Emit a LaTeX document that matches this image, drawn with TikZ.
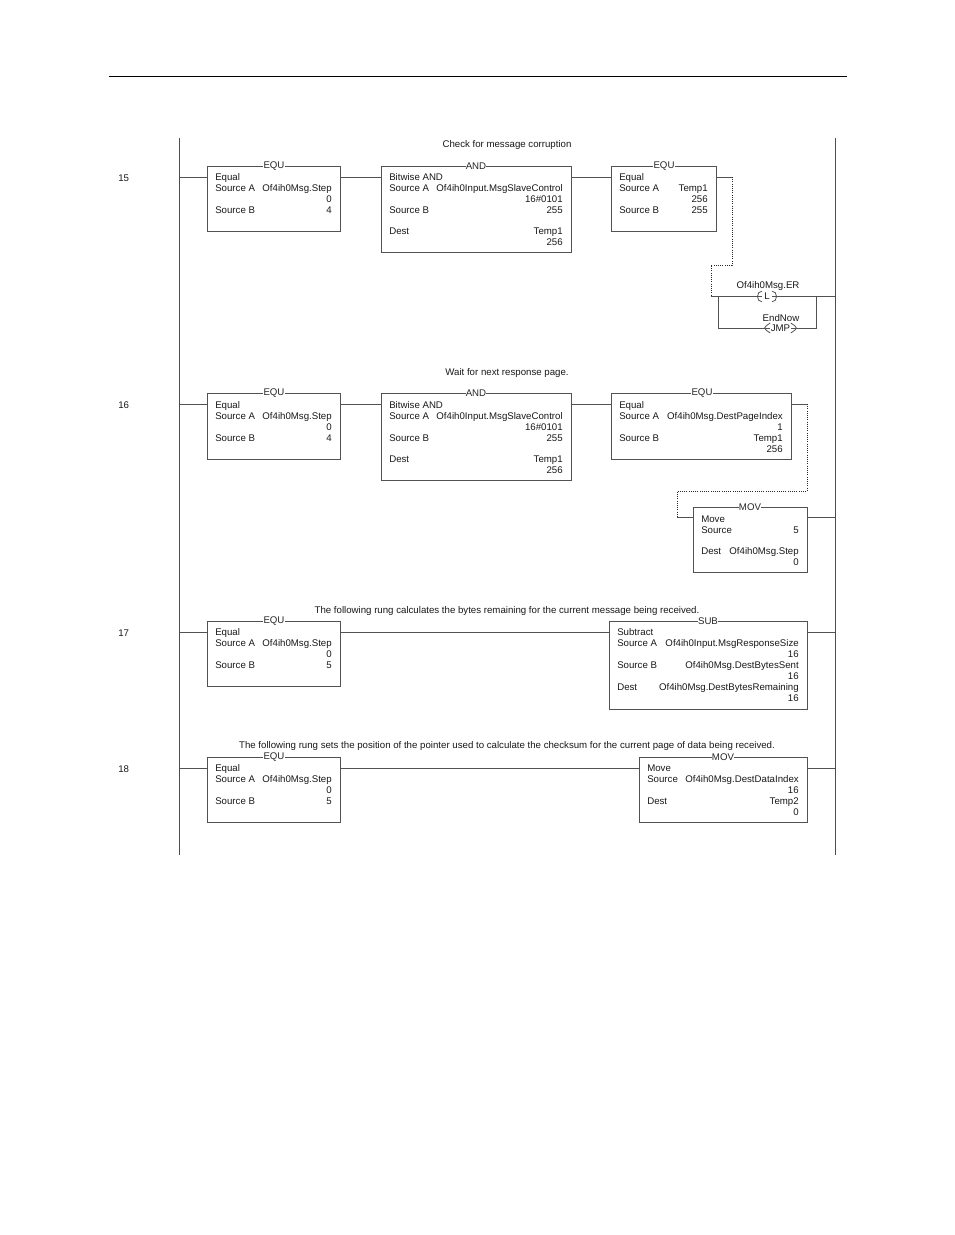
\documentclass[tikz,border=0pt]{standalone}
\usepackage{fontspec}
\setmainfont{Liberation Sans}
\newcommand{\fsz}{\fontsize{7.25pt}{8pt}\selectfont}
\tikzset{
  ln/.style={draw=black!68,line width=0.55pt},
  rail/.style={draw=black!70,line width=0.7pt},
  dots/.style={draw=black!85,line width=0.65pt,densely dotted},
  ibox/.style={ln,rectangle,anchor=north west,inner sep=0pt,outer sep=0pt},
  ttl/.style={fill=white,inner sep=0.2pt,font=\fsz,text=black!85},
  lt/.style={anchor=base west,inner sep=0pt,font=\fsz,text=black!90},
  rt/.style={anchor=base east,inner sep=0pt,font=\fsz,text=black!90},
  ct/.style={anchor=base,inner sep=0pt,font=\fsz,text=black!90},
  coil/.style={fill=white,rectangle,inner sep=0pt,outer sep=0pt,text=black!90,font=\fsz}
}
\newcommand{\ibx}[7]{% name,x1,y1,x2,y2,title,titlex
  \pgfmathsetlengthmacro{\ww}{(#4-#2)*0.75pt}
  \pgfmathsetlengthmacro{\hh}{(#5-#3)*0.75pt}
  \node[ibox,minimum width=\ww,minimum height=\hh] (#1) at (#2,#3) {};
  \node[ttl] (#1t) at (#7,#3) {#6};
}
\begin{document}
\begin{tikzpicture}[x=0.75pt,y=-0.75pt]
\useasboundingbox (0,0) rectangle (954,1235);
\fill[white] (0,0) rectangle (954,1235);
\coordinate (ruleL) at (109,76); \coordinate (ruleR) at (847,76);
\draw[draw=black,line width=0.7pt] (ruleL) -- (ruleR);
% rails
\coordinate (lt) at (179,138); \coordinate (lb) at (179,855);
\coordinate (rt) at (835,138); \coordinate (rb) at (835,855);
\draw[rail] (lt) -- (lb);
\draw[rail] (rt) -- (rb);
% rung numbers
\foreach \n/\y in {15/181,16/408,17/636,18/772} \node[lt] (num\n) at (118,\y) {\n};
% comments
\node[ct] (c15) at (507,147) {Check for message corruption};
\node[ct] (c16) at (507,375) {Wait for next response page.};
\node[ct] (c17) at (507,613) {The following rung calculates the bytes remaining for the current message being received.};
\node[ct] (c18) at (507,748) {The following rung sets the position of the pointer used to calculate the checksum for the current page of data being received.};
% ---- rung 15
\ibx{a1}{207}{166}{340}{231}{EQU}{274}
\node[lt] at (215,180) {Equal};
\node[lt] at (215,191) {Source A};
\node[rt] at (332,191) {Of4ih0Msg.Step};
\node[rt] at (332,202) {0};
\node[lt] at (215,213) {Source B};
\node[rt] at (332,213) {4};
\ibx{a2}{381}{166}{571}{252}{AND}{476}
\node[lt] at (389,180) {Bitwise AND};
\node[lt] at (389,191) {Source A};
\node[rt] at (563,191) {Of4ih0Input.MsgSlaveControl};
\node[rt] at (563,202) {16\#0101};
\node[lt] at (389,213) {Source B};
\node[rt] at (563,213) {255};
\node[lt] at (389,234) {Dest};
\node[rt] at (563,234) {Temp1};
\node[rt] at (563,245) {256};
\ibx{a3}{611}{166}{716}{231}{EQU}{664}
\node[lt] at (619,180) {Equal};
\node[lt] at (619,191) {Source A};
\node[rt] at (708,191) {Temp1};
\node[rt] at (708,202) {256};
\node[lt] at (619,213) {Source B};
\node[rt] at (708,213) {255};
\coordinate (a0L) at (179,177);
\draw[ln] (a0L) -- (a1.north west |- a0L);
\draw[ln] (a1.north east |- a0L) -- (a2.north west |- a0L);
\draw[ln] (a2.north east |- a0L) -- (a3.north west |- a0L);
\coordinate (d1) at (732,177); \coordinate (d2) at (732,265);
\coordinate (d3) at (711,265); \coordinate (d4) at (711,296);
\draw[ln] (a3.north east |- a0L) -- (d1);
\draw[dots] (d1) -- (d2) -- (d3) -- (d4);
\coordinate (rr15) at (835,296);
\coordinate (bl) at (718,296); \coordinate (br) at (816,296);
\coordinate (jl) at (718,328); \coordinate (jr) at (816,328);
\draw[ln] (d4) -- (rr15);
\draw[ln] (bl) -- (jl) -- (jr) -- (br);
\node[coil,minimum width=7.5pt,minimum height=8pt] (coilL) at (767,296.5) {L};
\draw[ln,line width=0.6pt] (coilL.north west) .. controls ([xshift=-4.5pt]coilL.north west) and ([xshift=-4.5pt]coilL.south west) .. (coilL.south west);
\draw[ln,line width=0.6pt] (coilL.north east) .. controls ([xshift=4.5pt]coilL.north east) and ([xshift=4.5pt]coilL.south east) .. (coilL.south east);
\node[coil,minimum width=15.5pt,minimum height=7.5pt] (coilJ) at (780.5,328) {JMP};
\draw[ln,line width=0.6pt] (coilJ.north west) .. controls ([xshift=-5.5pt]coilJ.west) .. (coilJ.south west);
\draw[ln,line width=0.6pt] (coilJ.north east) .. controls ([xshift=5.5pt]coilJ.east) .. (coilJ.south east);
\node[ct] (lblL) at (768,288) {Of4ih0Msg.ER};
\node[ct] (lblJ) at (781,321) {EndNow};
% ---- rung 16
\ibx{b1}{207}{393}{340}{459}{EQU}{274}
\node[lt] at (215,408) {Equal};
\node[lt] at (215,419) {Source A};
\node[rt] at (332,419) {Of4ih0Msg.Step};
\node[rt] at (332,430) {0};
\node[lt] at (215,441) {Source B};
\node[rt] at (332,441) {4};
\ibx{b2}{381}{393}{571}{480}{AND}{476}
\node[lt] at (389,408) {Bitwise AND};
\node[lt] at (389,419) {Source A};
\node[rt] at (563,419) {Of4ih0Input.MsgSlaveControl};
\node[rt] at (563,430) {16\#0101};
\node[lt] at (389,441) {Source B};
\node[rt] at (563,441) {255};
\node[lt] at (389,462) {Dest};
\node[rt] at (563,462) {Temp1};
\node[rt] at (563,473) {256};
\ibx{b3}{611}{393}{791}{459}{EQU}{702}
\node[lt] at (619,408) {Equal};
\node[lt] at (619,419) {Source A};
\node[rt] at (783,419) {Of4ih0Msg.DestPageIndex};
\node[rt] at (783,430) {1};
\node[lt] at (619,441) {Source B};
\node[rt] at (783,441) {Temp1};
\node[rt] at (783,452) {256};
\ibx{b4}{693}{507}{807}{572}{MOV}{750}
\node[lt] at (701,522) {Move};
\node[lt] at (701,533) {Source};
\node[rt] at (799,533) {5};
\node[lt] at (701,554) {Dest};
\node[rt] at (799,554) {Of4ih0Msg.Step};
\node[rt] at (799,565) {0};
\coordinate (b0L) at (179,404);
\draw[ln] (b0L) -- (b1.north west |- b0L);
\draw[ln] (b1.north east |- b0L) -- (b2.north west |- b0L);
\draw[ln] (b2.north east |- b0L) -- (b3.north west |- b0L);
\coordinate (e1) at (807,404); \coordinate (e2) at (807,491);
\coordinate (e3) at (677,491); \coordinate (e4) at (677,517);
\coordinate (r16) at (835,517);
\draw[ln] (b3.north east |- b0L) -- (e1);
\draw[dots] (e1) -- (e2) -- (e3) -- (e4);
\draw[ln] (e4) -- (b4.north west |- e4);
\draw[ln] (b4.north east |- e4) -- (r16);
% ---- rung 17
\ibx{c1}{207}{621}{340}{686}{EQU}{274}
\node[lt] at (215,635) {Equal};
\node[lt] at (215,646) {Source A};
\node[rt] at (332,646) {Of4ih0Msg.Step};
\node[rt] at (332,657) {0};
\node[lt] at (215,668) {Source B};
\node[rt] at (332,668) {5};
\ibx{c2}{609}{621}{807}{709}{SUB}{708}
\node[lt] at (617,635) {Subtract};
\node[lt] at (617,646) {Source A};
\node[rt] at (799,646) {Of4ih0Input.MsgResponseSize};
\node[rt] at (799,657) {16};
\node[lt] at (617,668) {Source B};
\node[rt] at (799,668) {Of4ih0Msg.DestBytesSent};
\node[rt] at (799,679) {16};
\node[lt] at (617,690) {Dest};
\node[rt] at (799,690) {Of4ih0Msg.DestBytesRemaining};
\node[rt] at (799,701) {16};
\coordinate (c0L) at (179,632); \coordinate (c0R) at (835,632);
\draw[ln] (c0L) -- (c1.north west |- c0L);
\draw[ln] (c1.north east |- c0L) -- (c2.north west |- c0L);
\draw[ln] (c2.north east |- c0L) -- (c0R);
% ---- rung 18
\ibx{f1}{207}{757}{340}{822}{EQU}{274}
\node[lt] at (215,771) {Equal};
\node[lt] at (215,782) {Source A};
\node[rt] at (332,782) {Of4ih0Msg.Step};
\node[rt] at (332,793) {0};
\node[lt] at (215,804) {Source B};
\node[rt] at (332,804) {5};
\ibx{f2}{639}{757}{807}{822}{MOV}{723}
\node[lt] at (647,771) {Move};
\node[lt] at (647,782) {Source};
\node[rt] at (799,782) {Of4ih0Msg.DestDataIndex};
\node[rt] at (799,793) {16};
\node[lt] at (647,804) {Dest};
\node[rt] at (799,804) {Temp2};
\node[rt] at (799,815) {0};
\coordinate (f0L) at (179,768); \coordinate (f0R) at (835,768);
\draw[ln] (f0L) -- (f1.north west |- f0L);
\draw[ln] (f1.north east |- f0L) -- (f2.north west |- f0L);
\draw[ln] (f2.north east |- f0L) -- (f0R);
\end{tikzpicture}
\end{document}
